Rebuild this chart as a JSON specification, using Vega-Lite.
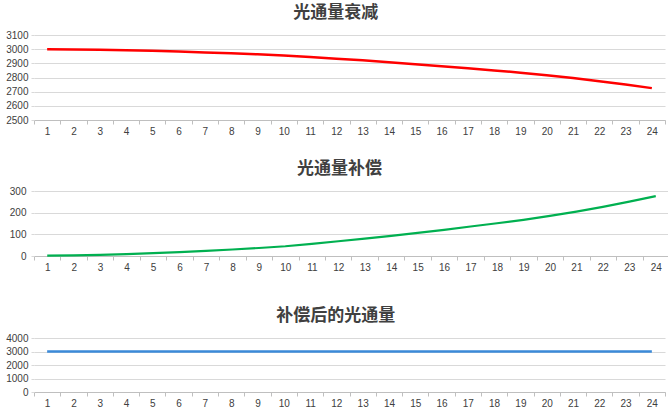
{
  "$schema": "https://vega.github.io/schema/vega-lite/v6.json",
  "padding": {"left": 5, "top": 4, "right": 0, "bottom": 0},
  "background": "white",
  "spacing": 24,
  "align": "none",
  "config": {
    "view": {"stroke": null},
    "font": "Liberation Sans",
    "title": {"font": "Noto Sans CJK SC", "fontSize": 17, "fontWeight": "bold", "color": "#404040", "anchor": "middle", "frame": "bounds", "offset": 8},
    "axisX": {"labelAngle": 0, "tickBand": "extent", "domainColor": "#bfbfbf", "tickColor": "#bfbfbf", "tickSize": 4, "labelPadding": 2, "labelFontSize": 10, "labelColor": "#404040", "grid": false, "title": null},
    "axisY": {"domain": false, "gridColor": "#d9d9d9", "tickColor": "#d9d9d9", "tickSize": 3, "labelPadding": 3, "labelFontSize": 10, "labelColor": "#404040", "format": "d", "title": null}
  },
  "datasets": {
    "flux": [
      {"t": 1, "decay": 3000, "comp": 2, "after": 3000},
      {"t": 2, "decay": 2998, "comp": 3, "after": 3000},
      {"t": 3, "decay": 2996, "comp": 5, "after": 3000},
      {"t": 4, "decay": 2992, "comp": 9, "after": 3000},
      {"t": 5, "decay": 2988, "comp": 13, "after": 3000},
      {"t": 6, "decay": 2983, "comp": 18, "after": 3000},
      {"t": 7, "decay": 2977, "comp": 24, "after": 3000},
      {"t": 8, "decay": 2971, "comp": 30, "after": 3000},
      {"t": 9, "decay": 2964, "comp": 37, "after": 3000},
      {"t": 10, "decay": 2956, "comp": 45, "after": 3000},
      {"t": 11, "decay": 2945, "comp": 56, "after": 3000},
      {"t": 12, "decay": 2933, "comp": 68, "after": 3000},
      {"t": 13, "decay": 2921, "comp": 80, "after": 3000},
      {"t": 14, "decay": 2908, "comp": 93, "after": 3000},
      {"t": 15, "decay": 2894, "comp": 107, "after": 3000},
      {"t": 16, "decay": 2880, "comp": 121, "after": 3000},
      {"t": 17, "decay": 2865, "comp": 136, "after": 3000},
      {"t": 18, "decay": 2850, "comp": 151, "after": 3000},
      {"t": 19, "decay": 2834, "comp": 167, "after": 3000},
      {"t": 20, "decay": 2816, "comp": 185, "after": 3000},
      {"t": 21, "decay": 2796, "comp": 205, "after": 3000},
      {"t": 22, "decay": 2774, "comp": 227, "after": 3000},
      {"t": 23, "decay": 2750, "comp": 251, "after": 3000},
      {"t": 24, "decay": 2725, "comp": 276, "after": 3000}
    ]
  },
  "vconcat": [
    {
      "title": "光通量衰减",
      "width": 631,
      "height": 85,
      "data": {"name": "flux"},
      "mark": {"type": "line", "color": "#ff0000", "strokeWidth": 2.5},
      "encoding": {
        "x": {"field": "t", "type": "ordinal", "scale": {"type": "band", "paddingInner": 0, "paddingOuter": 0}},
        "y": {"field": "decay", "type": "quantitative", "scale": {"domain": [2500, 3100], "nice": false, "zero": false}, "axis": {"values": [2500, 2600, 2700, 2800, 2900, 3000, 3100]}}
      }
    },
    {
      "title": "光通量补偿",
      "width": 635,
      "height": 65,
      "data": {"name": "flux"},
      "mark": {"type": "line", "color": "#00b050", "strokeWidth": 2.2},
      "encoding": {
        "x": {"field": "t", "type": "ordinal", "scale": {"type": "band", "paddingInner": 0, "paddingOuter": 0}, "axis": {"minExtent": 27}},
        "y": {"field": "comp", "type": "quantitative", "scale": {"domain": [0, 300], "nice": false}, "axis": {"values": [0, 100, 200, 300], "labelPadding": 5}}
      }
    },
    {
      "title": "补偿后的光通量",
      "width": 631,
      "height": 54,
      "data": {"name": "flux"},
      "mark": {"type": "line", "color": "#3b8ad9", "strokeWidth": 2.5},
      "encoding": {
        "x": {"field": "t", "type": "ordinal", "scale": {"type": "band", "paddingInner": 0, "paddingOuter": 0}},
        "y": {"field": "after", "type": "quantitative", "scale": {"domain": [0, 4000], "nice": false}, "axis": {"values": [0, 1000, 2000, 3000, 4000]}}
      }
    }
  ]
}
